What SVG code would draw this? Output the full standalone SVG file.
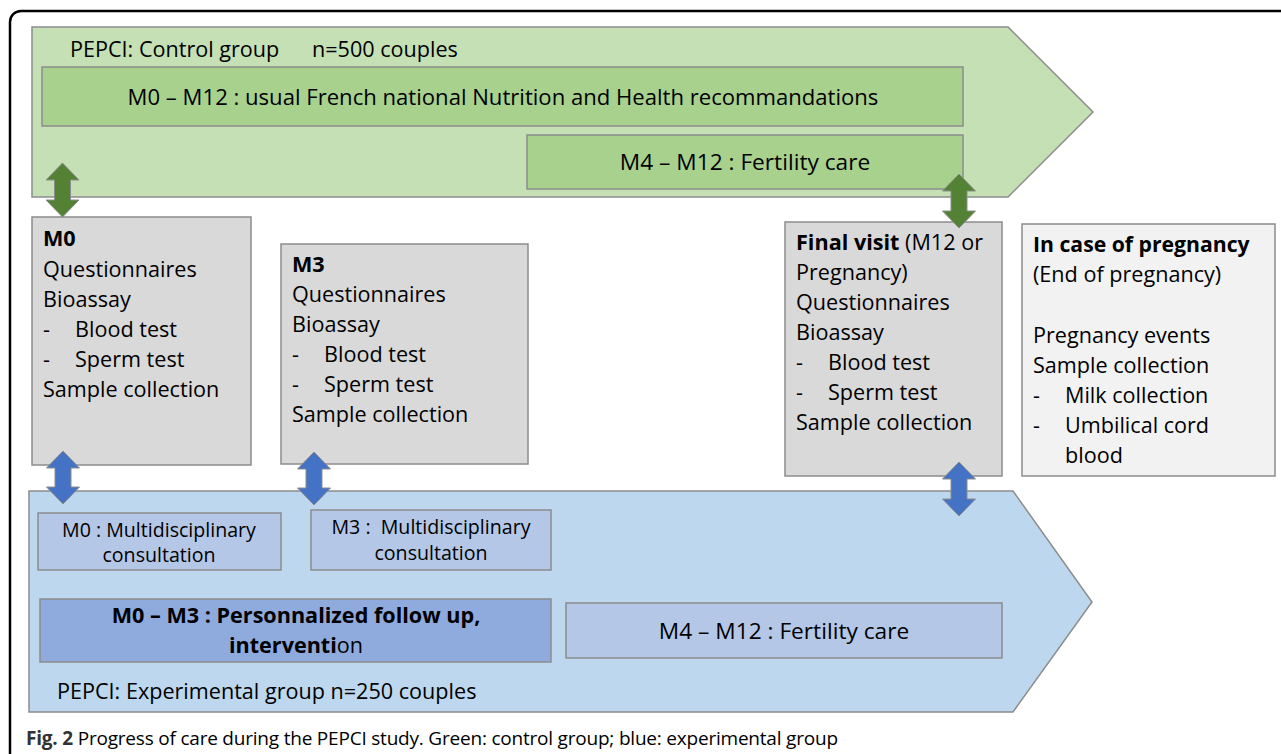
<svg xmlns="http://www.w3.org/2000/svg" width="1281" height="754" viewBox="0 0 1281 754">
<style>
text{font-family:"Open Sans","DejaVu Sans",sans-serif;fill:#000}
.t21{font-size:21.6px}
.t23{font-size:22.7px}
.t22{font-size:22.1px}
.t20{font-size:19.6px}
.b{font-weight:bold}
.box{stroke:#8c8c8c;stroke-width:1.5}
.arrG{fill:#548235;stroke:#8c8c8c;stroke-width:1}
.arrB{fill:#4472c4;stroke:#8c8c8c;stroke-width:1}
</style>
<rect width="1281" height="754" fill="#fff"/>
<rect x="10" y="11" width="1300" height="770" rx="11" fill="none" stroke="#000" stroke-width="2.5"/>

<g id="control-group">
<polygon class="box" points="32,27 1008,27 1093,112 1008,197 32,197" fill="#c5e0b4"/>
<text class="t21" x="70" y="57">PEPCI: Control group<tspan x="312">n=500 couples</tspan></text>
</g>
<g id="control-usual">
<rect class="box" x="42" y="67" width="921" height="59" fill="#a9d18e"/>
<text class="t22" x="503" y="105" text-anchor="middle">M0 – M12 : usual French national Nutrition and Health recommandations</text>
</g>
<g id="control-fertility">
<rect class="box" x="527" y="135" width="436" height="54" fill="#a9d18e"/>
<text class="t23" x="745" y="170" text-anchor="middle">M4 – M12 : Fertility care</text>
</g>

<g id="experimental-group">
<polygon class="box" points="29,491 1013,491 1092,602 1013,712 29,712" fill="#bdd7ee"/>
<text class="t21" x="57" y="699">PEPCI: Experimental group n=250 couples</text>
</g>
<g id="exp-m0">
<rect class="box" x="38" y="513" width="243" height="57" fill="#b4c7e7"/>
<text class="t20" x="159" y="537" text-anchor="middle">M0 : Multidisciplinary</text>
<text class="t20" x="159" y="562" text-anchor="middle">consultation</text>
</g>
<g id="exp-m3">
<rect class="box" x="311" y="510" width="240" height="60" fill="#b4c7e7"/>
<text class="t20" x="431" y="534" text-anchor="middle" xml:space="preserve">M3 :  Multidisciplinary</text>
<text class="t20" x="431" y="560" text-anchor="middle">consultation</text>
</g>
<g id="exp-followup">
<rect class="box" x="40" y="599" width="511" height="63" fill="#8faadc"/>
<text class="t21 b" x="296" y="623" text-anchor="middle">M0 – M3 : Personnalized follow up,</text>
<text class="t21" x="296" y="653" text-anchor="middle"><tspan class="b">interventi</tspan>on</text>
</g>
<g id="exp-fertility">
<rect class="box" x="566" y="603" width="436" height="55" fill="#b4c7e7"/>
<text class="t23" x="784" y="639" text-anchor="middle">M4 – M12 : Fertility care</text>
</g>

<g id="visit-m0">
<rect class="box" x="32" y="217" width="219" height="248" fill="#d9d9d9"/>
<text class="t21" x="43"><tspan class="b" x="43" y="246">M0</tspan><tspan x="43" y="277">Questionnaires</tspan><tspan x="43" y="307">Bioassay</tspan><tspan x="43" y="337">-</tspan><tspan x="75" y="337">Blood test</tspan><tspan x="43" y="367">-</tspan><tspan x="75" y="367">Sperm test</tspan><tspan x="43" y="397">Sample collection</tspan></text>
</g>
<g id="visit-m3">
<rect class="box" x="281" y="244" width="247" height="220" fill="#d9d9d9"/>
<text class="t21" x="292"><tspan class="b" x="292" y="272">M3</tspan><tspan x="292" y="302">Questionnaires</tspan><tspan x="292" y="332">Bioassay</tspan><tspan x="292" y="362">-</tspan><tspan x="324" y="362">Blood test</tspan><tspan x="292" y="392">-</tspan><tspan x="324" y="392">Sperm test</tspan><tspan x="292" y="422">Sample collection</tspan></text>
</g>
<g id="visit-final">
<rect class="box" x="785" y="222" width="217" height="254" fill="#d9d9d9"/>
<text class="t21" x="796"><tspan x="796" y="250"><tspan class="b">Final visit</tspan> (M12 or</tspan><tspan x="796" y="280">Pregnancy)</tspan><tspan x="796" y="310">Questionnaires</tspan><tspan x="796" y="340">Bioassay</tspan><tspan x="796" y="370">-</tspan><tspan x="828" y="370">Blood test</tspan><tspan x="796" y="400">-</tspan><tspan x="828" y="400">Sperm test</tspan><tspan x="796" y="430">Sample collection</tspan></text>
</g>
<g id="pregnancy">
<rect class="box" x="1022" y="224" width="253" height="252" fill="#f2f2f2"/>
<text class="t21" x="1033"><tspan class="b" x="1033" y="252" font-size="21.2">In case of pregnancy</tspan><tspan x="1033" y="282">(End of pregnancy)</tspan><tspan x="1033" y="343">Pregnancy events</tspan><tspan x="1033" y="373">Sample collection</tspan><tspan x="1033" y="403">-</tspan><tspan x="1065" y="403">Milk collection</tspan><tspan x="1033" y="433">-</tspan><tspan x="1065" y="433">Umbilical cord</tspan><tspan x="1065" y="463">blood</tspan></text>
</g>

<g id="connectors">
<polygon class="arrG" points="62.5,163 79,180 70.5,180 70.5,200 79,200 62.5,217 46,200 54.5,200 54.5,180 46,180"/>
<polygon class="arrG" points="959,174 975.5,191 967,191 967,211 975.5,211 959,228 942.5,211 951,211 951,191 942.5,191"/>
<polygon class="arrB" points="63,451 79.5,468 71,468 71,487 79.5,487 63,504 46.5,487 55,487 55,468 46.5,468"/>
<polygon class="arrB" points="314,452 330.5,469 322,469 322,488 330.5,488 314,505 297.5,488 306,488 306,469 297.5,469"/>
<polygon class="arrB" points="959,462 975.5,479 967,479 967,499 975.5,499 959,516 942.5,499 951,499 951,479 942.5,479"/>
</g>

<text x="26" y="745" font-size="19" fill="#444" textLength="812" lengthAdjust="spacing"><tspan font-weight="bold" fill="#333">Fig. 2</tspan> Progress of care during the PEPCI study. Green: control group; blue: experimental group</text>
</svg>
